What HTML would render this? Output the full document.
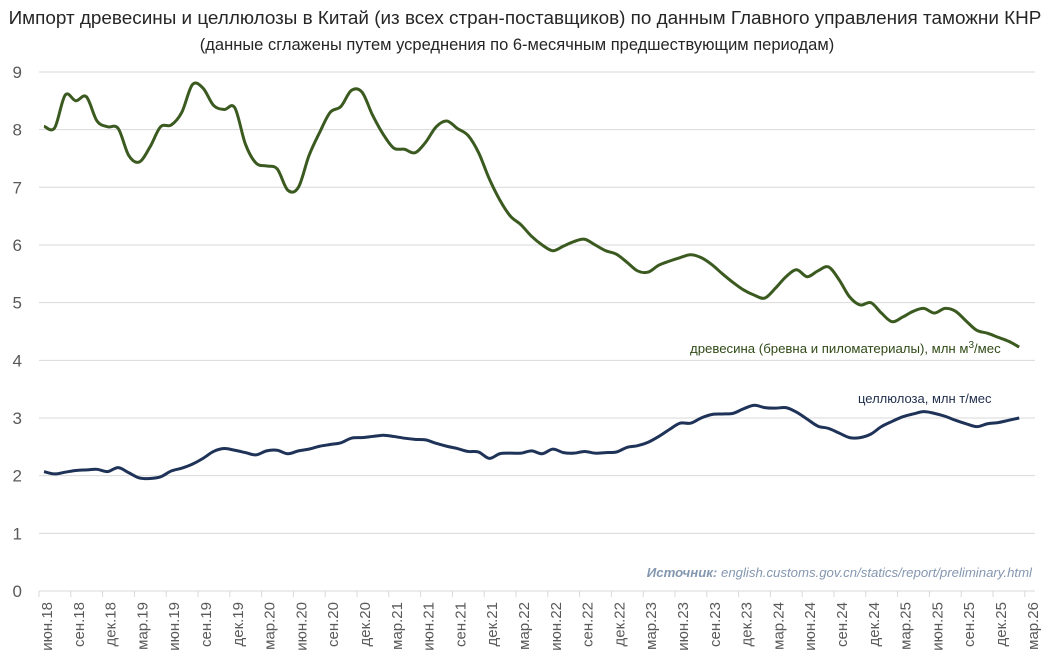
<!DOCTYPE html>
<html><head><meta charset="utf-8"><style>
body{margin:0;background:#fff;}
svg{display:block;font-family:"Liberation Sans",sans-serif;}
</style></head><body>
<svg id="chart" width="1050" height="668" viewBox="0 0 1050 668">
<text x="525" y="24" text-anchor="middle" font-size="18.9" fill="#262626">Импорт древесины и целлюлозы в Китай (из всех стран-поставщиков) по данным Главного управления таможни КНР</text>
<text x="517" y="50" text-anchor="middle" font-size="16.5" fill="#262626">(данные сглажены путем усреднения по 6-месячным предшествующим периодам)</text>
<g id="grid"></g><g id="yticks"></g><g id="xticks"></g>
<text x="1032" y="577" text-anchor="end" font-size="13.2" font-style="italic" fill="#8497b0"><tspan font-weight="bold">Источник:</tspan> english.customs.gov.cn/statics/report/preliminary.html</text>
<g id="series"></g>
<text x="690" y="353" font-size="13.2" fill="#2f4a16">древесина (бревна и пиломатериалы), млн м<tspan dy="-5" font-size="10">3</tspan><tspan dy="5">/мес</tspan></text>
<text x="858" y="403" font-size="13" fill="#1f2d4d">целлюлоза, млн т/мес</text>
</svg>
<script>
const monthNames=["июн","сен","дек","мар"];
const yTicks=[0,1,2,3,4,5,6,7,8,9];
const wood=[8.06,8.03,8.6,8.5,8.57,8.15,8.05,8.02,7.55,7.44,7.7,8.05,8.08,8.3,8.78,8.72,8.42,8.35,8.38,7.75,7.42,7.37,7.32,6.95,7.0,7.55,7.95,8.3,8.4,8.68,8.65,8.25,7.92,7.68,7.66,7.6,7.78,8.05,8.15,8.02,7.9,7.6,7.15,6.78,6.5,6.35,6.15,6.0,5.9,5.98,6.06,6.1,6.0,5.9,5.84,5.7,5.55,5.53,5.65,5.72,5.78,5.83,5.78,5.66,5.5,5.35,5.22,5.13,5.08,5.25,5.45,5.57,5.45,5.55,5.62,5.4,5.1,4.96,5.0,4.82,4.67,4.75,4.85,4.9,4.82,4.9,4.85,4.68,4.52,4.47,4.4,4.33,4.23];
const pulp=[2.07,2.03,2.06,2.09,2.1,2.11,2.07,2.14,2.05,1.96,1.95,1.98,2.08,2.13,2.2,2.3,2.42,2.47,2.44,2.4,2.36,2.43,2.44,2.38,2.43,2.46,2.51,2.54,2.57,2.65,2.66,2.68,2.7,2.68,2.65,2.63,2.62,2.56,2.51,2.47,2.42,2.41,2.3,2.38,2.39,2.39,2.43,2.38,2.46,2.4,2.39,2.42,2.39,2.4,2.41,2.49,2.52,2.58,2.68,2.8,2.91,2.91,3.0,3.06,3.07,3.08,3.16,3.22,3.18,3.17,3.18,3.1,2.98,2.86,2.82,2.74,2.66,2.66,2.72,2.85,2.94,3.02,3.07,3.11,3.08,3.03,2.96,2.9,2.85,2.9,2.92,2.96,3.0];
const NS="http://www.w3.org/2000/svg";
const x=i=>44+10.6*i;
const y=v=>591-57.67*v;
function mk(tag,attrs,parent){const e=document.createElementNS(NS,tag);for(const k in attrs)e.setAttribute(k,attrs[k]);document.getElementById(parent).appendChild(e);return e;}
yTicks.forEach(t=>{
  const g=mk("line",{x1:39,x2:1035,y1:y(t),y2:y(t),stroke:"#d9d9d9","stroke-width":1},"grid");
  
  
  const l=mk("text",{x:22,y:y(t)+6,"text-anchor":"end","font-size":17,fill:"#595959"},"yticks");
  l.textContent=t;
  
  
});
for(let i=0;i<=93;i+=3){
  const tk=mk("line",{x1:x(i)-5,x2:x(i)-5,y1:591,y2:597,stroke:"#d9d9d9"},"xticks");
  
  
  const m=(i/3)%4, yr=18+Math.floor((i/3+1)/4);
  const lab=mk("text",{transform:`translate(${x(i)+8},602) rotate(-90)`,"text-anchor":"end","font-size":15,fill:"#595959"},"xticks");
  lab.textContent=monthNames[m]+"."+yr;
  
  
}
function smooth(vals){
  const p=vals.map((v,i)=>[x(i),y(v)]);
  let d=`M${p[0][0]},${p[0][1]}`;
  for(let i=0;i<p.length-1;i++){
    const p0=p[Math.max(0,i-1)],p1=p[i],p2=p[i+1],p3=p[Math.min(p.length-1,i+2)];
    const c1=[p1[0]+(p2[0]-p0[0])/6,p1[1]+(p2[1]-p0[1])/6];
    const c2=[p2[0]-(p3[0]-p1[0])/6,p2[1]-(p3[1]-p1[1])/6];
    d+=`C${c1[0]},${c1[1]} ${c2[0]},${c2[1]} ${p2[0]},${p2[1]}`;
  }
  return d;
}
const w=mk("path",{d:smooth(wood),fill:"none",stroke:"#3b5a20","stroke-width":3,"stroke-linejoin":"round"},"series");


const p=mk("path",{d:smooth(pulp),fill:"none",stroke:"#1f3358","stroke-width":3,"stroke-linejoin":"round"},"series");


</script>
</body></html>
